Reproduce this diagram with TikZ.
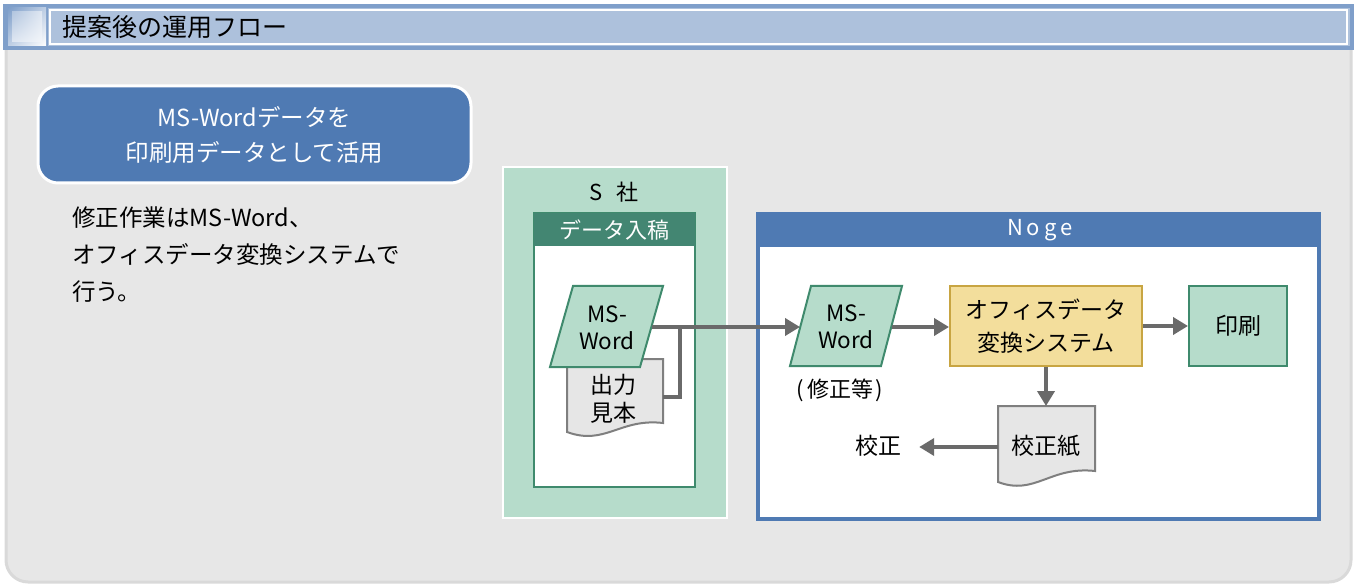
\documentclass[tikz,border=0pt]{standalone}
\usepackage{fontspec}
\setmainfont{Noto Sans CJK JP}
\usetikzlibrary{arrows.meta,calc,shadings}
\definecolor{hdrborder}{HTML}{7F9FCA}
\definecolor{hdrfill}{HTML}{ADC1DC}
\definecolor{panelfill}{HTML}{E7E7E7}
\definecolor{panelline}{HTML}{D9D9D9}
\definecolor{bluebox}{HTML}{4F7AB3}
\definecolor{mint}{HTML}{B6DCCB}
\definecolor{greenline}{HTML}{3F8A6D}
\definecolor{greenhdr}{HTML}{438672}
\definecolor{yel}{HTML}{F3DE9C}
\definecolor{gold}{HTML}{C8A542}
\definecolor{docfill}{HTML}{E6E6E6}
\definecolor{docline}{HTML}{7F7F7F}
\definecolor{arrowgray}{HTML}{6A6A6A}
\newcommand{\fsb}[2]{\fontsize{#1pt}{#2pt}\selectfont}
\begin{document}
\begin{tikzpicture}[x=1pt,y=-1pt,
  txt/.style={inner sep=0pt,font=\fsb{23}{28}},
  conn/.style={draw=arrowgray,line width=4pt},
  arr/.style={conn,-{Triangle[length=15pt,width=17pt]}},
  procbox/.style={draw,line width=2pt,minimum width=#1,minimum height=80pt,inner sep=0pt,align=center,font=\fsb{23}{33}},
]
\useasboundingbox (0,0) rectangle (1354,585);
% panel
\path[fill=panelfill,draw=panelline,line width=3pt,rounded corners=22pt]
  (6,40) -- (6,582) -- (1351,582) -- (1351,40);
\fill[panelfill] (8,45) rectangle (1349,60);
% header
\fill[hdrborder] (3,4) rectangle (1354,50);
\fill[hdrfill] (48,8) rectangle (1350,46);
\draw[white,line width=1.2pt] (50,10) rectangle (1347,44);
\shade[upper left=hdrborder,lower right=white,upper right=hdrborder!50!white,lower left=hdrborder!50!white] (8,8) rectangle (46,46);
\shade[upper left=hdrborder!60!white,lower right=white!90!hdrborder,upper right=hdrborder!25!white,lower left=hdrborder!25!white] (12,12) rectangle (42,42);
\node[txt,anchor=west,font=\fsb{25}{28}] (title) at (62,27) {提案後の運用フロー};

% blue box
\node[draw=white,line width=3pt,fill=bluebox,rounded corners=20pt,minimum width=433pt,minimum height=97pt,
  text=white,align=center,inner sep=0pt,font=\fsb{23.5}{35}] (goal) at (254.5,134.5)
  {MS-Wordデータを\\印刷用データとして活用};

\node[txt,anchor=north west,align=left,font=\fsb{23.5}{37}] (note) at (72,207)
  {修正作業はMS-Word、\\オフィスデータ変換システムで\\行う。};

% S社 panel
\draw[fill=mint,draw=white,line width=1.5pt] (503,167) rectangle (727,518);
\node[txt,font=\fsb{22}{26}] (ssha) at (614,192) {S\hspace{14pt}社};
\draw[fill=white,draw=greenline,line width=2pt] (534,213) rectangle (695,487);
\fill[greenhdr] (534,213) rectangle (695,246);
\node[txt,text=white,font=\fsb{22}{26}] (nyuko) at (614.5,230) {データ入稿};

% doc 出力見本
\draw[fill=docfill,draw=docline,line width=2pt]
  (567,359) -- (663,359) -- (663,423) .. controls (620,418) and (605,446) .. (567,432) -- cycle;
\node[txt,align=center,font=\fsb{23}{28}] (sample) at (613,399) {出力\\見本};

% parallelogram 1
\draw[fill=mint,draw=greenline,line width=2pt] (573,286) -- (663,286) -- (640,367) -- (550,367) -- cycle;
\node[txt,align=center,font=\fsb{22.5}{27}] (word1) at (607,328) {MS-\\Word};
\coordinate (w1out) at (651.5,327);
\coordinate (sampleout) at (663,397);
\coordinate (join) at (680,327);

% Noge box
\draw[fill=white,draw=bluebox,line width=3.5pt] (758,214) rectangle (1319,519);
\fill[bluebox] (758,214) rectangle (1319,247);
\node[txt,text=white,font=\fsb{22}{26}] (noge) at (1040,230) {N\hspace{4pt}o\hspace{4pt}g\hspace{4pt}e};

% parallelogram 2
\draw[fill=mint,draw=greenline,line width=2pt] (811,286) -- (902,286) -- (881,366) -- (790,366) -- cycle;
\node[txt,align=center,font=\fsb{22.5}{27}] (word2) at (846,327) {MS-\\Word};
\coordinate (w2in) at (800,327);
\coordinate (w2out) at (892,327);
\node[txt,font=\fsb{22}{25}] (fix) at (840,390) {(\hspace{3pt}修正等\hspace{3pt})};

\node[procbox=192pt,fill=yel,draw=gold] (conv) at (1046,326) {オフィスデータ\\変換システム};
\node[procbox=98pt,fill=mint,draw=greenline] (print) at (1238,326) {印刷};

% doc 校正紙
\draw[fill=docfill,draw=docline,line width=2pt]
  (998,406) -- (1095,406) -- (1095,471) .. controls (1050,466) and (1035,496) .. (998,482) -- cycle;
\coordinate (proofin) at (1046,406);
\coordinate (proofout) at (998,447);
\node[txt] (proof) at (1046,446) {校正紙};
\node[txt] (kosei) at (878,446) {校正};

% connectors
\draw[conn] (sampleout) -- (sampleout -| join) -- (join);
\draw[arr] (w1out) -- (w2in);
\draw[arr] (w2out) -- (conv.west |- w2out);
\draw[arr] (conv.east) -- (print.west);
\draw[arr] (conv.south) -- (proofin);
\draw[arr] (proofout) -- ([xshift=18pt]kosei.east |- proofout);
\end{tikzpicture}
\end{document}
